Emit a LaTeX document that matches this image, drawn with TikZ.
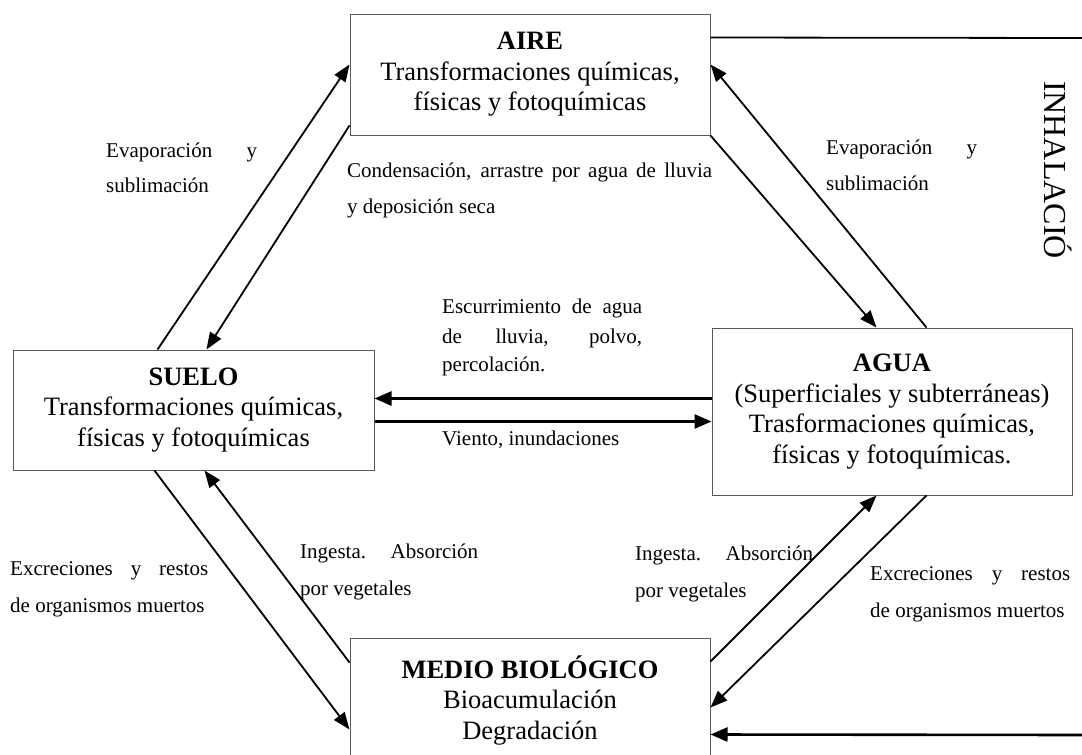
\documentclass[tikz,border=0pt]{standalone}
\usepackage{fontspec}
\setmainfont{Liberation Serif}
\usetikzlibrary{arrows.meta,calc}
\tikzset{
  envbox/.style={draw=black!65, line width=1pt, align=center, inner sep=0pt,
    font=\fontsize{26.5}{30.5}\selectfont},
  lbl/.style={font=\fontsize{21}{25}\selectfont, inner sep=0pt, anchor=base west},
  flow/.style={line width=1.8pt, -{Triangle[length=17pt,width=13pt]}},
  hflow/.style={line width=2.6pt, -{Triangle[length=17pt,width=14pt]}},
  plain/.style={line width=1.8pt}
}
\begin{document}
\begin{tikzpicture}[x=1pt,y=-1pt]
\clip (0,0) rectangle (1082,755);
\fill[white] (0,0) rectangle (1082,755);

% boxes
\node[envbox, minimum width=360pt, minimum height=121pt] (aire) at (530,74.5)
  {\textbf{AIRE}\\Transformaciones químicas,\\físicas y fotoquímicas};
\node[envbox, minimum width=360pt, minimum height=167pt] (agua) at (892,411.5)
  {\textbf{AGUA}\\(Superficiales y subterráneas)\\Trasformaciones químicas,\\físicas y fotoquímicas.};
\node[envbox, minimum width=361pt, minimum height=120pt] (suelo) at (193.5,410)
  {\textbf{SUELO}\\Transformaciones químicas,\\físicas y fotoquímicas};
\node[envbox, minimum width=360pt, minimum height=124pt] (medio) at (530,700)
  {\textbf{MEDIO BIOLÓGICO}\\Bioacumulación\\Degradación};

% free ends on the right border
\coordinate (inhA) at (1082,38);
\coordinate (inhB) at (1082,735);

% connectors
\draw[flow] ($(suelo.north west)+(145,0)$) -- ($(aire.north west)+(0,51)$);
\draw[flow] ($(aire.south west)+(0,-10)$) -- ($(suelo.north west)+(194,0)$);
\draw[flow] (aire.south east) -- ($(agua.north west)+(165,0)$);
\draw[flow] ($(agua.north west)+(215,0)$) -- ($(aire.north east)+(0,51)$);
\draw[hflow] ($(agua.north west)+(0,71)$) -- ($(suelo.north east)+(0,49)$);
\draw[hflow] ($(suelo.north east)+(0,72)$) -- ($(agua.north west)+(0,94)$);
\draw[flow] ($(suelo.south west)+(142,0)$) -- ($(medio.north west)+(0,92)$);
\draw[flow] ($(medio.north west)+(0,25)$) -- ($(suelo.south west)+(192,0)$);
\draw[flow] ($(medio.north east)+(0,24)$) -- ($(agua.south west)+(165,0)$);
\draw[flow] ($(agua.south west)+(215,0)$) -- ($(medio.north east)+(0,70)$);
\draw[plain] ($(aire.north east)+(0,24)$) -- (inhA);
\draw[hflow] (inhB) -- ($(medio.north east)+(0,97)$);

% labels
\node[lbl] (evL1) at (106,157) {\makebox[151pt][s]{Evaporación y}};
\node[lbl] (evL2) at (106,192) {sublimación};
\node[lbl] (cond1) at (347,177) {\makebox[365pt][s]{Condensación, arrastre por agua de lluvia}};
\node[lbl] (cond2) at (347,213) {y deposición seca};
\node[lbl] (evR1) at (826,154) {\makebox[151pt][s]{Evaporación y}};
\node[lbl] (evR2) at (826,190) {sublimación};
\node[lbl] (esc1) at (442,313) {\makebox[200pt][s]{Escurrimiento de agua}};
\node[lbl] (esc2) at (442,343) {\makebox[200pt][s]{de lluvia, polvo,}};
\node[lbl] (esc3) at (442,371) {percolación.};
\node[lbl] (vie) at (442,445) {Viento, inundaciones};
\node[lbl] (excL1) at (10,575) {\makebox[198pt][s]{Excreciones y restos}};
\node[lbl] (excL2) at (10,612) {de organismos muertos};
\node[lbl] (ingL1) at (300,558) {\makebox[178pt][s]{Ingesta. Absorción}};
\node[lbl] (ingL2) at (300,595) {por vegetales};
\node[lbl] (ingR1) at (635,560) {\makebox[178pt][s]{Ingesta. Absorción}};
\node[lbl] (ingR2) at (635,597) {por vegetales};
\node[lbl] (excR1) at (870,580) {\makebox[200pt][s]{Excreciones y restos}};
\node[lbl] (excR2) at (870,617) {de organismos muertos};
\node[inner sep=0pt, rotate=-90, font=\fontsize{32}{36}\selectfont] (inh) at (1058,170) {INHALACIÓ};
\end{tikzpicture}
\end{document}
